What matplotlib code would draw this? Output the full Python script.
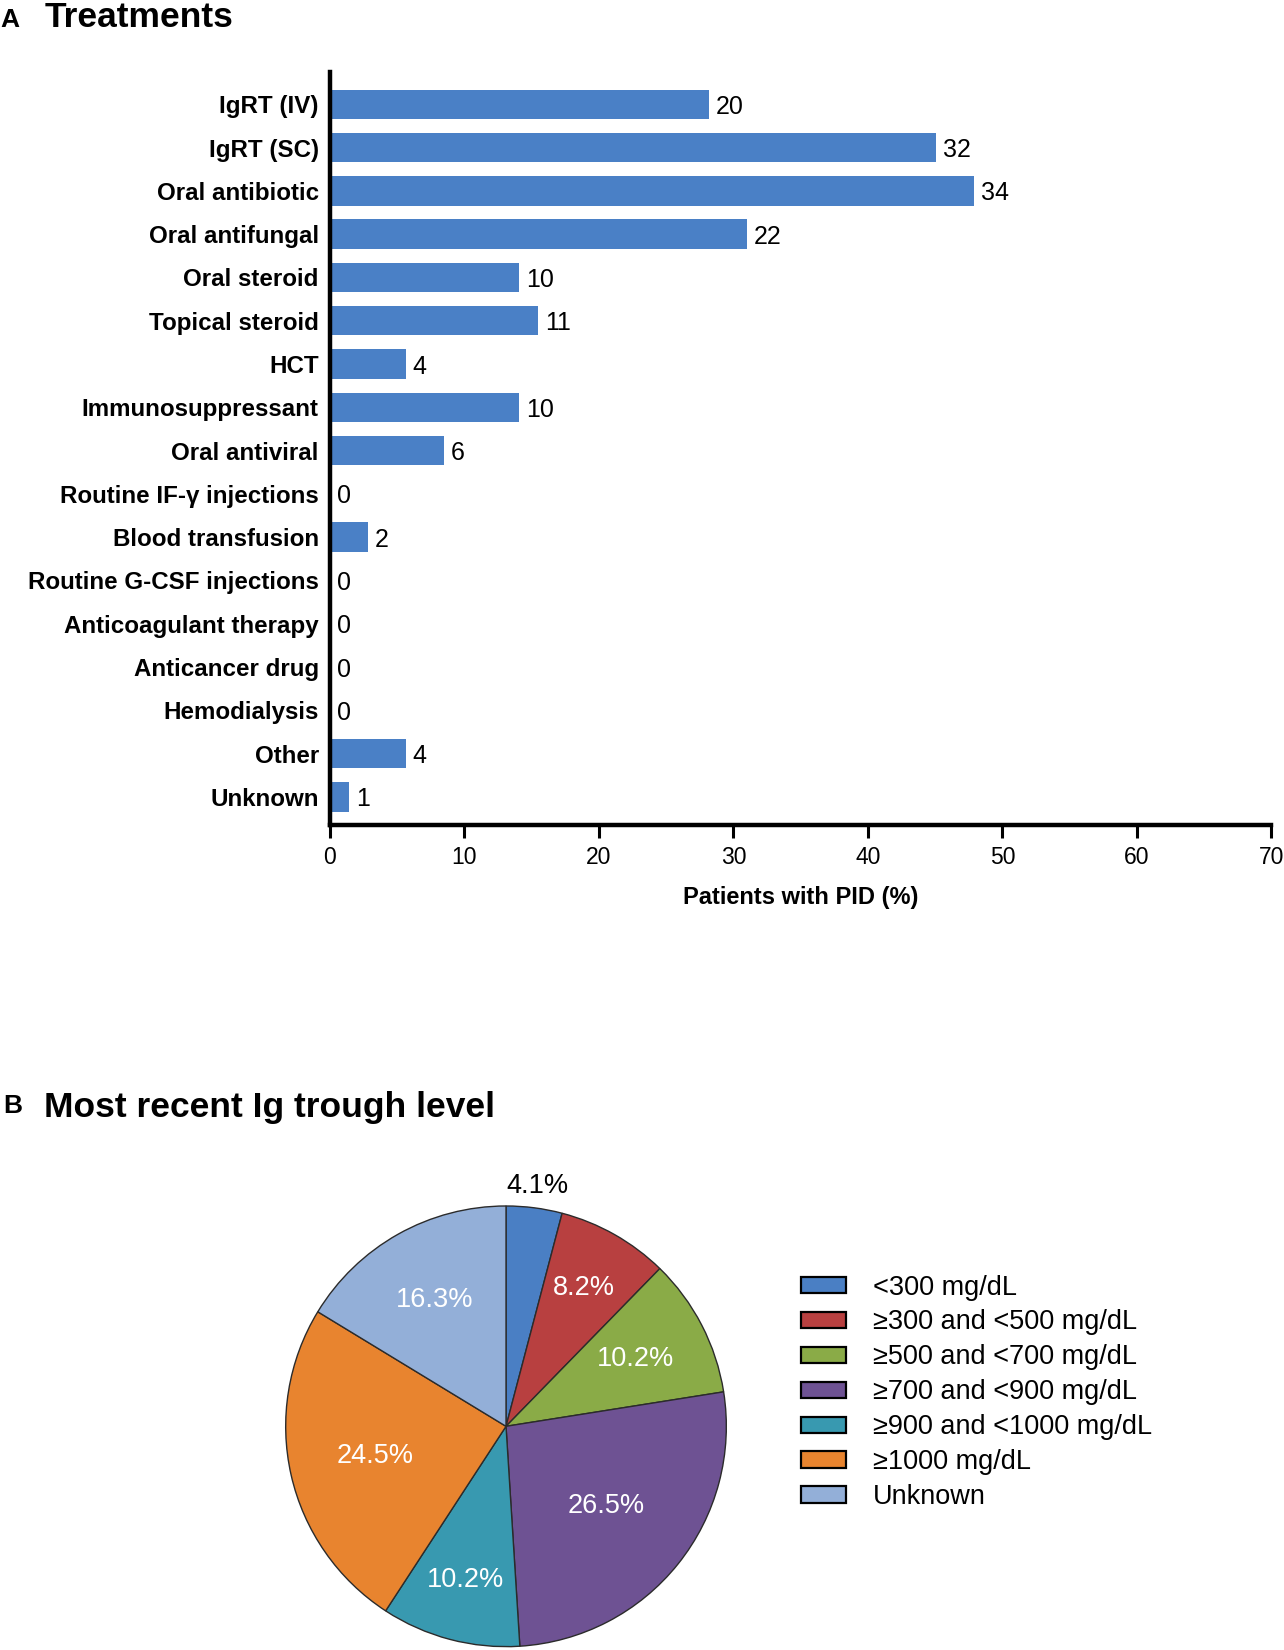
import matplotlib
matplotlib.use("Agg")
import matplotlib.pyplot as plt
from matplotlib.patches import Patch
import math

plt.rcParams['font.family'] = ['Liberation Sans', 'DejaVu Sans']

# ---- Panel A data ----
treatments = ["IgRT (IV)", "IgRT (SC)", "Oral antibiotic", "Oral antifungal", "Oral steroid",
              "Topical steroid", "HCT", "Immunosuppressant", "Oral antiviral",
              "Routine IF-\u03b3 injections", "Blood transfusion", "Routine G-CSF injections",
              "Anticoagulant therapy", "Anticancer drug", "Hemodialysis", "Other", "Unknown"]
counts = [20, 32, 34, 22, 10, 11, 4, 10, 6, 0, 2, 0, 0, 0, 0, 4, 1]
n_patients = 71
x_ticks = [0, 10, 20, 30, 40, 50, 60, 70]

# ---- Panel B data ----
trough_labels = ["<300 mg/dL", "\u2265300 and <500 mg/dL", "\u2265500 and <700 mg/dL",
                 "\u2265700 and <900 mg/dL", "\u2265900 and <1000 mg/dL", "\u22651000 mg/dL", "Unknown"]
trough_pct = [4.1, 8.2, 10.2, 26.5, 10.2, 24.5, 16.3]
trough_colors = ["#4a7fc4", "#b84040", "#8aab47", "#6e5293", "#3899b0", "#e8842f", "#93afd8"]

W, H = 1284, 1650
S = 1284 / 1218.0  # layout measured on a 1218-wide view


def fx(px):
    return px * S / W


def fy(py):
    return 1 - py * S / H


fig = plt.figure(figsize=(W / 100, H / 100), dpi=100)

# ---- Panel A ----
axA = fig.add_axes([fx(313), fy(783), fx(1206) - fx(313), fy(68) - fy(783)])
pct = [c / n_patients * 100 for c in counts]
ypos = list(range(len(treatments)))
bars = axA.barh(ypos, pct, height=0.68, color="#4a80c6")
lbls = axA.bar_label(bars, labels=[str(c) for c in counts], padding=5, fontsize=18)
for t in lbls:
    t.set_va("center_baseline")
axA.set_ylim(len(treatments) - 1 + 0.66, -0.755)
axA.set_xlim(0, 70)
axA.set_xticks(x_ticks)
axA.set_xticklabels([str(t) for t in x_ticks], fontsize=16.5)
axA.set_yticks(ypos)
axA.set_yticklabels(treatments, fontsize=17.4, fontweight="bold")
axA.tick_params(axis="y", length=0, pad=8)
axA.tick_params(axis="x", length=9, width=2.2, pad=6)
for s in ["top", "right"]:
    axA.spines[s].set_visible(False)
for s in ["left", "bottom"]:
    axA.spines[s].set_linewidth(3.2)
axA.set_xlabel("Patients with PID (%)", fontsize=17, fontweight="bold", labelpad=12)

fig.text(fx(0), fy(19), "A", fontsize=19, fontweight="bold", va="center", ha="left")
fig.text(fx(42), fy(17), "Treatments", fontsize=25.5, fontweight="bold", va="center", ha="left")

# ---- Panel B ----
fig.text(fx(3), fy(1049), "B", fontsize=19, fontweight="bold", va="center", ha="left")
fig.text(fx(42), fy(1051), "Most recent Ig trough level", fontsize=25.5, fontweight="bold",
         va="center", ha="left")

r = 209
cx, cy = 480, 1353
axB = fig.add_axes([fx(cx - r), fy(cy + r), fx(2 * r), fy(0) - fy(2 * r)])
wedges, texts = axB.pie(trough_pct, colors=trough_colors, startangle=90,
                        counterclock=False, radius=1,
                        wedgeprops=dict(edgecolor="#2b2b2b", linewidth=1))
label_dist = [1.1, 0.72, 0.66, 0.58, 0.72, 0.61, 0.66]
for i, (w, v) in enumerate(zip(wedges, trough_pct)):
    ang = math.radians((w.theta1 + w.theta2) / 2)
    d = label_dist[i]
    axB.text(d * math.cos(ang), d * math.sin(ang), f"{v:.1f}%", fontsize=19.5,
             color="black" if i == 0 else "white", ha="center", va="center")
axB.set_xlim(-1, 1)
axB.set_ylim(-1, 1)
axB.set_aspect("equal")
axB.axis("off")

handles = [Patch(facecolor=c, edgecolor="black", linewidth=1.6) for c in trough_colors]
fig.legend(handles, trough_labels, loc="upper left",
           bbox_to_anchor=(fx(760), fy(1209)), frameon=False, fontsize=19.5,
           handlelength=1.65, handleheight=0.55, handletextpad=1.0, labelspacing=0.33,
           borderpad=0, borderaxespad=0)

fig.savefig("out.png", dpi=100)
